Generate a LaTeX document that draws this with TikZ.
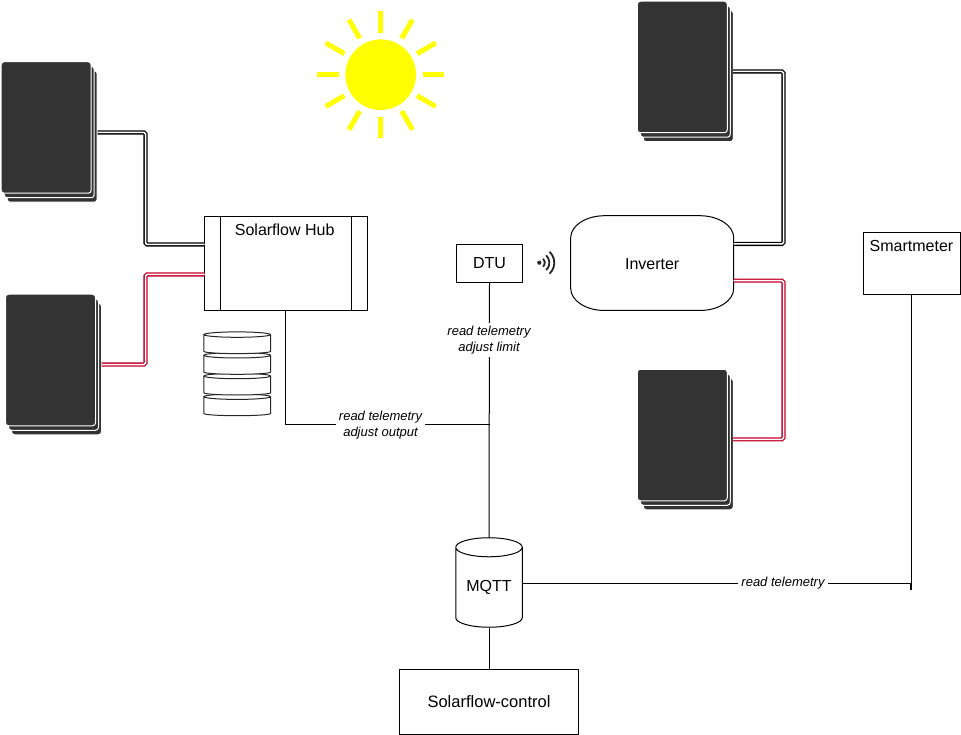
\documentclass[tikz,border=0pt]{standalone}
\usepackage{fontspec}
\setmainfont{Liberation Sans}
\usetikzlibrary{positioning,shapes.geometric,shadows}
\definecolor{panel_grey}{HTML}{333333}
\definecolor{wire_red}{HTML}{C4002A}
\definecolor{sun_yellow}{HTML}{FFFF00}
\tikzset{
  box/.style = {draw, line width = 1pt, fill = white, inner sep = 0pt, font = \fontsize{16}{19}\selectfont},
  panel/.style = {draw = white, line width = 1pt, fill = panel_grey, rounded corners = 3pt, minimum width = 90pt, minimum height = 131.5pt, inner sep = 0pt,
    double copy shadow = {shadow xshift = 3pt, shadow yshift = -4.5pt, draw = white, fill = panel_grey, opacity = 1}},
  wire/.style = {line width = 1.3pt, double = white, double distance = 1.5pt, rounded corners = 1.5pt},
  link/.style = {line width = 1pt},
  link_label/.style = {fill = white, inner sep = 3pt, align = center, font = \fontsize{13}{16}\selectfont\itshape},
  ray/.style = {draw = sun_yellow, line width = 5pt},
  signal/.style = {line width = 1.8pt, black!85},
  disk/.style = {line width = 1pt, fill = white, draw = black!85}
}
\begin{document}
\begin{tikzpicture}[x = 1pt, y = -1pt]
\useasboundingbox (0,0) rectangle (961,735);
% sun
\coordinate (sun_center) at (380.7,74.7);
\foreach \ang in {0,30,...,330}
  \draw[ray] (sun_center) ++(\ang:42pt) -- ++(\ang:21.5pt);
\node[circle, fill = sun_yellow, minimum size = 70.6pt, inner sep = 0pt] (sun) at (sun_center) {};
% panels
\node[panel] (panel_west_a) at (46.2,127.5) {};
\node[panel] (panel_west_b) at (50.5,360) {};
\node[panel] (panel_east_a) at (682.3,67) {};
\node[panel] (panel_east_b) at (682.3,435) {};
% boxes
\node[box, minimum width = 163pt, minimum height = 94pt] (hub) at (286,263.5) {};
\node[anchor = center, font = \fontsize{16}{19}\selectfont] (hub_text) at (284.7,230) {Solarflow Hub};
\draw[link] (220.5,216.5) -- (220.5,310.5);
\draw[link] (351.5,216.5) -- (351.5,310.5);
\node[box, minimum width = 66pt, minimum height = 38pt] (dtu) at (489.5,263.5) {DTU};
\draw[link] (604.7,215.7) -- (699.7,215.7) arc[start angle = 90, end angle = 0, x radius = 34pt, y radius = 22pt] -- (733.7,288.5) arc[start angle = 0, end angle = -90, x radius = 34pt, y radius = 22pt] -- (604.7,310.5) arc[start angle = -90, end angle = -180, x radius = 34pt, y radius = 22pt] -- (570.7,237.7) arc[start angle = 180, end angle = 90, x radius = 34pt, y radius = 22pt] -- cycle;
\node[font = \fontsize{16}{19}\selectfont] (inverter) at (652.2,263.7) {Inverter};
\node[box, minimum width = 97pt, minimum height = 62pt] (smartmeter) at (912,263.5) {};
\node[font = \fontsize{16}{19}\selectfont] (smartmeter_text) at (911.5,246) {Smartmeter};
\node[box, cylinder, shape border rotate = 90, aspect = .42, minimum width = 66.5pt, minimum height = 89.5pt] (mqtt) at (489,587.5) {\raisebox{-2pt}{MQTT}};
\node[box, minimum width = 179pt, minimum height = 65pt, font = \fontsize{16.5}{19}\selectfont] (control) at (489,701.5) {Solarflow-control};
% battery
\foreach \ytop in {394,373.3,352.6,331.9}
  \draw[disk] (203.9,\ytop+2.7) -- (203.9,\ytop+19.5) arc[start angle = 180, end angle = 360, x radius = 33.3pt, y radius = 2.2pt] -- (270.5,\ytop+2.7) arc[start angle = 0, end angle = 360, x radius = 33.3pt, y radius = 2.7pt];
% wifi
\coordinate (wifi_dot) at (539.3,262.7);
\fill[black!85] (wifi_dot) circle[radius = 2.1pt];
\foreach \rad in {5.5,10,15}
  \draw[signal] (wifi_dot) ++(-47:\rad pt) arc[start angle = -47, end angle = 47, radius = \rad pt];
% power wires
\coordinate (port_west_a) at (97.5,132.5);
\coordinate (port_west_b) at (101.5,364.5);
\coordinate (port_east_a) at (733,71.5);
\coordinate (port_east_b) at (733,439.3);
\coordinate (hub_in_a) at (204.5,244.5);
\coordinate (hub_in_b) at (204.5,274.5);
\coordinate (inv_in_a) at (733.7,244);
\coordinate (inv_in_b) at (733.7,280.7);
\draw[wire] (port_west_a) -- (145.5,132.5) -- (145.5,244.5) -- (hub_in_a);
\draw[wire, draw = wire_red] (port_west_b) -- (145.5,364.5) -- (145.5,274.5) -- (hub_in_b);
\draw[wire] (port_east_a) -- (783.5,71.5) -- (783.5,244) -- (inv_in_a);
\draw[wire, draw = wire_red] (port_east_b) -- (783.5,439.3) -- (783.5,280.7) -- (inv_in_b);
% data links
\coordinate (joint) at (489.5,424.5);
\draw[link] (dtu.south) -- (mqtt.top);
\draw[link] (hub.south -| 285.5,0) -- (285.5,424.5) -- (joint);
\draw[link] (mqtt.bottom) -- (control.north);
\draw[link] (smartmeter.south -| 911.5,0) -- (911.5,589.5) -- (910,589.5) -- (910,583.3) -- (522.3,583.3);
\node[link_label] (hub_label) at (380.5,425) {read telemetry\\adjust output};
\node[link_label] (dtu_label) at (489,340) {read telemetry\\adjust limit};
\node[link_label] (mqtt_label) at (783,583.5) {read telemetry};
\end{tikzpicture}
\end{document}
